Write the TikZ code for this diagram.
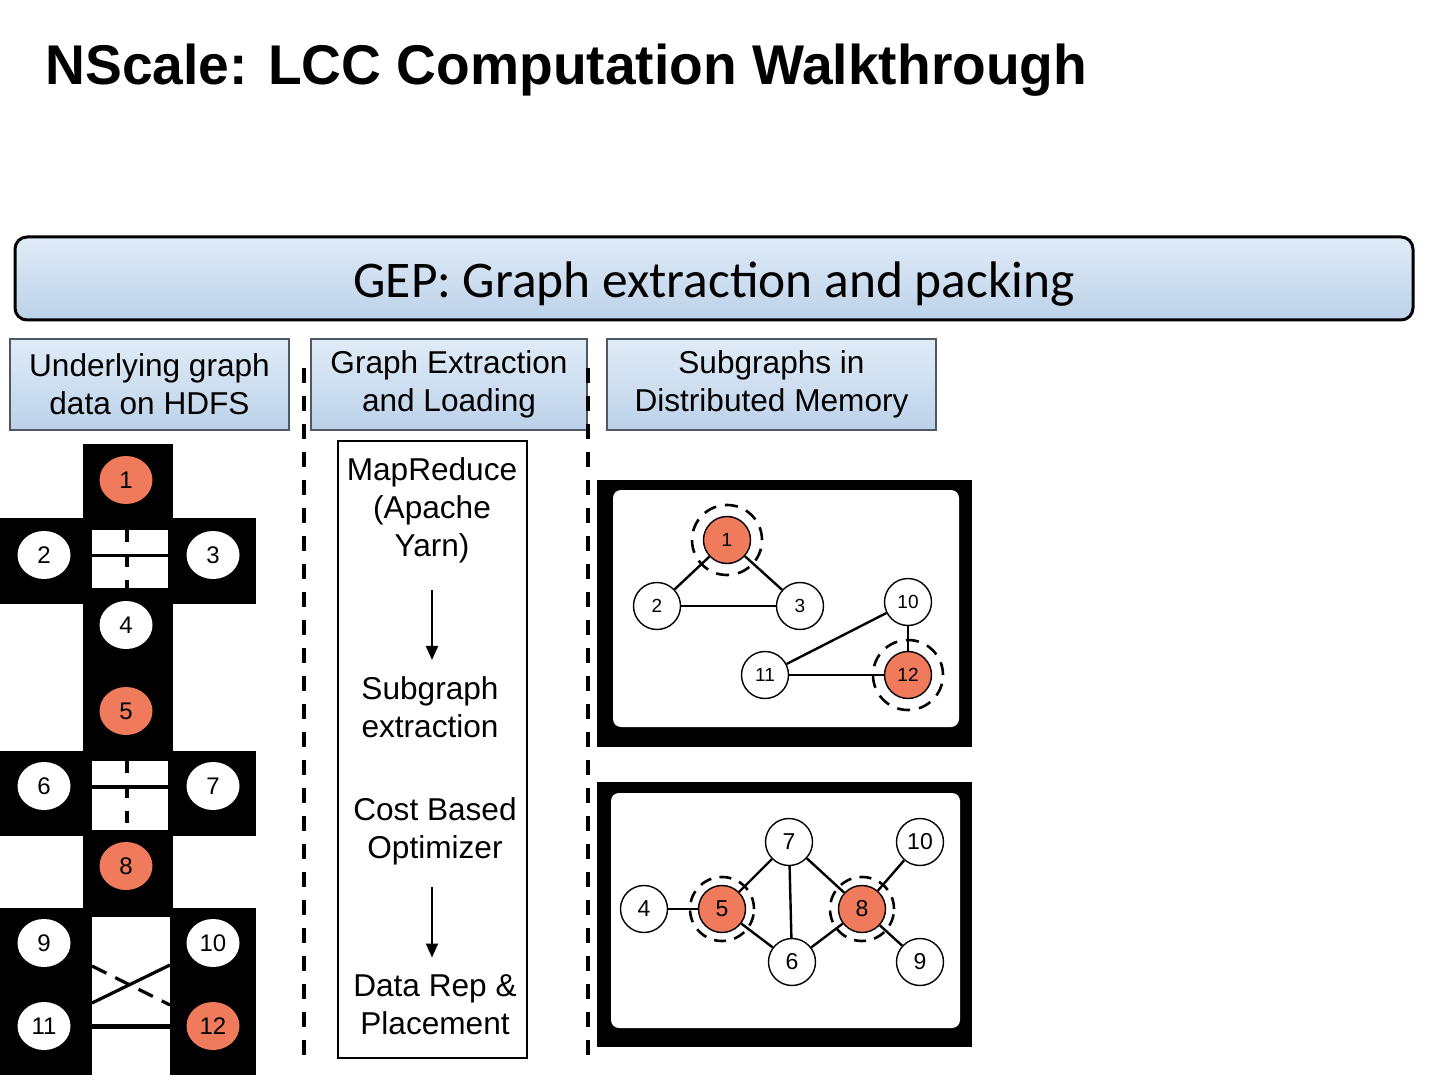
\documentclass[tikz,border=0pt]{standalone}
\usepackage{fontspec}
\setmainfont{Liberation Sans}
\newfontfamily\calib{Carlito}
\usetikzlibrary{arrows.meta,shapes.geometric}
\definecolor{nodeorange}{RGB}{240,122,92}
\definecolor{hdrtop}{RGB}{224,235,247}
\definecolor{hdrbot}{RGB}{188,210,233}
\definecolor{hdrline}{RGB}{80,88,100}
\begin{document}
\begin{tikzpicture}[x=0.5pt,y=-0.5pt,
  hdr/.style={draw=hdrline,line width=0.6pt,top color=hdrtop,bottom color=hdrbot,
    align=center,font=\fontsize{15.8}{19}\selectfont,inner sep=0pt},
  midtxt/.style={align=center,font=\fontsize{15.8}{19}\selectfont,inner sep=0pt},
  sep/.style={line width=2pt,dash pattern=on 7.5pt off 6.5pt},
  lnode/.style={ellipse,fill=white,minimum width=26.5pt,minimum height=24pt,inner sep=0pt,
    font=\fontsize{12}{12}\selectfont},
  lhot/.style={lnode,fill=nodeorange},
  gnode/.style={circle,draw,line width=0.7pt,fill=white,minimum size=23.5pt,inner sep=0pt},
  ghot/.style={gnode,fill=nodeorange},
  ringa/.style={circle,draw,line width=1.3pt,dash pattern=on 6.5pt off 4.5pt,minimum size=35pt,inner sep=0pt},
  ringb/.style={circle,draw,line width=1.3pt,dash pattern=on 6pt off 4.2pt,minimum size=32pt,inner sep=0pt},
  gedge/.style={line width=1.2pt},
  arr/.style={line width=1pt,-{Triangle[length=7pt,width=6pt]}}
]
\useasboundingbox (0,0) rectangle (1440,1080);

% title
\node[anchor=base west,inner sep=0pt,font=\fontsize{28}{32}\selectfont\bfseries] (title) at (45,85)
  {\scalebox{0.985}[1]{NScale: LCC Computation Walkthrough}};

% banner
\node[draw,line width=1.5pt,rounded corners=6pt,top color=hdrtop,bottom color=hdrbot,
  minimum width=699pt,minimum height=41.5pt,inner sep=0pt] (gep) at (714,278.5) {};
\node[anchor=base,inner sep=0pt,font=\calib\fontsize{25.7}{30}\selectfont] (gept) at (714,298)
  {GEP: Graph extraction and packing};

% headers
\node[hdr,minimum width=139.5pt,minimum height=45.5pt] (h1) at (149.5,384.5) {Underlying graph\\data on HDFS};
\node[hdr,minimum width=138pt,minimum height=45.5pt] (h2) at (449,384.5) {Graph Extraction\\and Loading};
\node[hdr,minimum width=164.5pt,minimum height=45.5pt] (h3) at (771.5,384.5) {Subgraphs in\\Distributed Memory};

% dashed separators
\draw[sep] (304,368) -- (304,1058);
\draw[sep] (588,368) -- (588,1058);

% middle box
\node[draw,line width=1.25pt,fill=white,minimum width=94.5pt,minimum height=308.5pt,inner sep=0pt] (mid) at (432.5,749.5) {};
\node[midtxt] (mr) at (432,510) {MapReduce\\ (Apache\\ Yarn)};
\node[midtxt] (sg) at (430,707) {Subgraph\\extraction};
\node[midtxt] (cb) at (435,831) {Cost Based\\Optimizer};
\node[midtxt] (dr) at (435,1005) {Data Rep \&\\Placement};
\draw[arr,shorten <=13.5pt,shorten >=8pt] (mr.south -| 432,0) -- (sg.north -| 432,0);
\draw[arr,shorten <=11pt,shorten >=8.5pt] (cb.south -| 432,0) -- (dr.north -| 432,0);

% left HDFS structure
\fill (83,444) rectangle (173,520);
\fill (0,518) rectangle (256,604);
\fill (83,603) rectangle (173,752);
\fill (0,751) rectangle (256,836);
\fill (83,835) rectangle (173,909);
\fill (0,908) rectangle (256,1075);
\fill[white] (92,530) rectangle (168,553.5);
\fill[white] (92,557) rectangle (168,588);
\fill[white] (92,761) rectangle (168,785);
\fill[white] (92,789) rectangle (168,830);
\fill[white] (92,917) rectangle (170,1024);
\fill[white] (92,1029) rectangle (170,1075);
\draw[line width=1.6pt,dash pattern=on 6pt off 6.5pt] (127,530) -- (127,588);
\draw[line width=1.6pt,dash pattern=on 6pt off 6.5pt] (127,761) -- (127,824);
\draw[line width=1.6pt] (92,1003) -- (170,965);
\draw[line width=1.6pt,dash pattern=on 8pt off 5pt] (92,966) -- (170,1005);

\node[lhot] (L1) at (126,480) {1};
\node[lnode] (L2) at (44,555) {2};
\node[lnode] (L3) at (213,555) {3};
\node[lnode] (L4) at (126,625) {4};
\node[lhot] (L5) at (126,711) {5};
\node[lnode] (L6) at (44,786) {6};
\node[lnode] (L7) at (213,786) {7};
\node[lhot] (L8) at (126,866) {8};
\node[lnode] (L9) at (44,943) {9};
\node[lnode] (L10) at (213,943) {10};
\node[lnode] (L11) at (44,1026) {11};
\node[lhot] (L12) at (213,1026) {12};

% panel 1
\fill (597,480) rectangle (972,747);
\fill[white,rounded corners=4pt] (613,490) rectangle (959,727);
\begin{scope}[every node/.append style={font=\fontsize{9.5}{10}\selectfont}]
\node[ghot] (A1) at (727,540) {1};
\node[gnode] (A2) at (657,606) {2};
\node[gnode] (A3) at (800,606) {3};
\node[gnode] (A10) at (908,602) {10};
\node[gnode] (A11) at (765,675) {11};
\node[ghot] (A12) at (908,675) {12};
\end{scope}
\node[ringa] (RA1) at (A1) {};
\node[ringa] (RA12) at (A12) {};
\draw[gedge] (A1) -- (A2);
\draw[gedge] (A1) -- (A3);
\draw[gedge] (A2) -- (A3);
\draw[gedge] (A10) -- (A11);
\draw[gedge] (A10) -- (A12);
\draw[gedge] (A11) -- (A12);

% panel 2
\fill (597,782) rectangle (972,1047);
\fill[white,rounded corners=4pt] (611,793) rectangle (960,1028);
\begin{scope}[every node/.append style={font=\fontsize{11.5}{12}\selectfont}]
\node[gnode] (B7) at (789,842) {7};
\node[gnode] (B10) at (920,842) {10};
\node[gnode] (B4) at (644,909) {4};
\node[ghot] (B5) at (722,909) {5};
\node[ghot] (B8) at (862,909) {8};
\node[gnode] (B6) at (792,962) {6};
\node[gnode] (B9) at (920,962) {9};
\end{scope}
\node[ringb] (RB5) at (B5) {};
\node[ringb] (RB8) at (B8) {};
\draw[gedge] (B4) -- (B5);
\draw[gedge] (B5) -- (B7);
\draw[gedge] (B5) -- (B6);
\draw[gedge] (B7) -- (B6);
\draw[gedge] (B7) -- (B8);
\draw[gedge] (B6) -- (B8);
\draw[gedge] (B8) -- (B10);
\draw[gedge] (B8) -- (B9);
\end{tikzpicture}
\end{document}
